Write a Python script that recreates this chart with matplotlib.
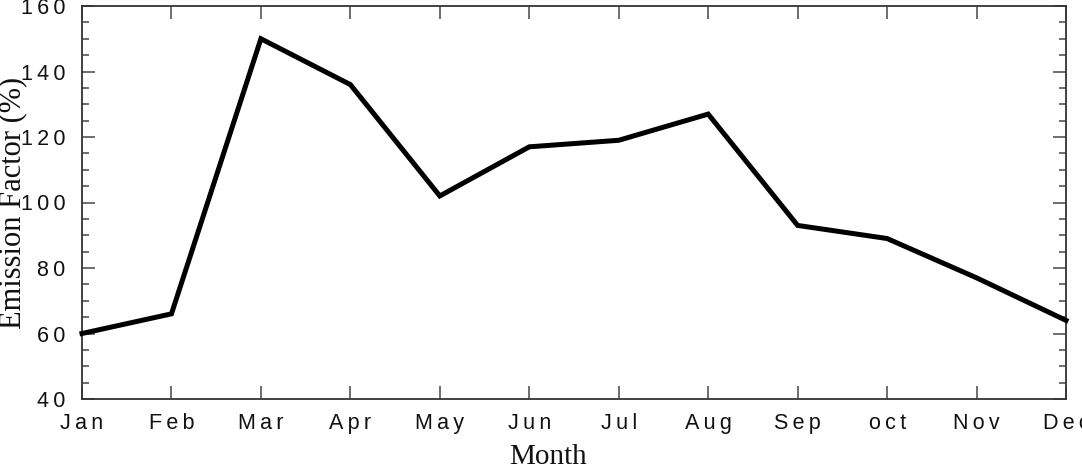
import matplotlib
matplotlib.use("Agg")
import matplotlib.pyplot as plt
from matplotlib.ticker import MultipleLocator, FixedLocator

months = ["Jan", "Feb", "Mar", "Apr", "May", "Jun", "Jul", "Aug", "Sep", "oct", "Nov", "Dec"]
emission_factor = [60, 66, 150, 136, 102, 117, 119, 127, 93, 89, 77, 64]
y_ticks = [40, 60, 80, 100, 120, 140, 160]

SANS = ["Liberation Sans", "DejaVu Sans"]
SERIF = ["Liberation Serif", "DejaVu Serif"]

plt.rcParams["xtick.labelsize"] = 15.5
plt.rcParams["ytick.labelsize"] = 15.5


def spaced(s):
    # the original tick labels have loose letter spacing
    return "\u2009".join(s)


fig = plt.figure(figsize=(10.82, 4.67), dpi=100)
ax = fig.add_axes([82 / 1082, 1 - 399 / 467, (1066 - 82) / 1082, (399 - 6) / 467])

x = list(range(len(months)))
ax.plot(x, emission_factor, color="black", lw=3.6, solid_joinstyle="miter", clip_on=False, zorder=3)

ax.set_xlim(0, len(months) - 1)
ax.set_ylim(40, 160)
ax.xaxis.set_major_locator(FixedLocator(x))
ax.set_xticklabels([spaced(m) for m in months])
ax.yaxis.set_major_locator(FixedLocator(y_ticks))
ax.set_yticklabels([spaced(str(v)) for v in y_ticks])
ax.yaxis.set_minor_locator(MultipleLocator(5))

ax.tick_params(which="both", direction="in", top=True, right=True, color="#555555",
               labelcolor="#111111", labelfontfamily=SANS)
ax.tick_params(which="major", length=9.5, width=1.2)
ax.tick_params(which="minor", length=5, width=1.2)
ax.tick_params(axis="y", pad=12)
ax.tick_params(axis="x", pad=10)

for sp in ax.spines.values():
    sp.set_linewidth(1.3)
    sp.set_color("#333333")

fig.text(548 / 1082, 1 - 464 / 467, "Month", family=SERIF, fontsize=21,
         ha="center", va="baseline", color="#111111")
fig.text(20 / 1082, 1 - 202.5 / 467, "Emission Factor (%)", family=SERIF, fontsize=22,
         rotation=90, rotation_mode="anchor", ha="center", va="baseline", color="#111111")

fig.savefig("out.png", dpi=100)
